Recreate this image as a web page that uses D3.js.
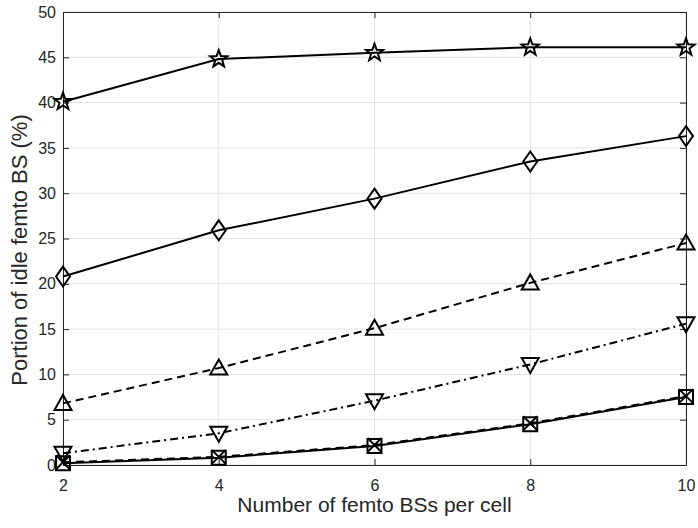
<!DOCTYPE html>
<html>
<head>
<meta charset="utf-8">
<script src="https://cdn.jsdelivr.net/npm/d3@7"></script>
<style>
  body { margin: 0; background: #fff; }
  text { font-family: "Liberation Sans", Arial, sans-serif; fill: #262626; }
</style>
</head>
<body>
<div id="chart-area"></div>
<script>
// femto BS counts
var femtoCounts = [2, 4, 6, 8, 10];
var starVals = [40.1, 44.8, 45.5, 46.1, 46.1];
var diamondVals = [20.8, 25.9, 29.4, 33.5, 36.3];
var triUpVals = [6.8, 10.7, 15.1, 20.1, 24.5];
var triDownVals = [1.3, 3.5, 7.1, 11.1, 15.6];
var squareVals = [0.2, 0.8, 2.1, 4.5, 7.5];
var crossVals = [0.3, 0.9, 2.2, 4.6, 7.6];
var yTicks = [0, 5, 10, 15, 20, 25, 30, 35, 40, 45, 50];

var series = [
  {values: starVals, marker: 'star', dash: null},
  {values: diamondVals, marker: 'diamond', dash: null},
  {values: triUpVals, marker: 'triUp', dash: '8,5'},
  {values: triDownVals, marker: 'triDown', dash: '8,4,2,4'},
  {values: squareVals, marker: 'square', dash: null},
  {values: crossVals, marker: 'cross', dash: '8,5'}
];

var width = 698, height = 528;
var margin = {left: 63, right: 12, top: 12, bottom: 63};

var svg = d3.select("#chart-area").append("svg")
            .attr("width", width)
            .attr("height", height);

const x = d3.scaleLinear().domain([2, 10]).range([margin.left, width - margin.right]);
const y = d3.scaleLinear().domain([0, 50]).range([height - margin.bottom, margin.top]);

// grid
svg.append("g").selectAll("line").data(femtoCounts).enter().append("line")
    .attr("x1", d => x(d)).attr("x2", d => x(d))
    .attr("y1", y(0)).attr("y2", y(50))
    .attr("stroke", "#e3e3e3").attr("stroke-width", 1);
svg.append("g").selectAll("line").data(yTicks).enter().append("line")
    .attr("x1", x(2)).attr("x2", x(10))
    .attr("y1", d => y(d)).attr("y2", d => y(d))
    .attr("stroke", "#e3e3e3").attr("stroke-width", 1);

// axes
svg.append("g").attr("transform", "translate(0," + y(0) + ")")
    .call(d3.axisBottom(x).tickValues(femtoCounts).tickSizeInner(-6).tickSizeOuter(0).tickPadding(15));
svg.append("g").attr("transform", "translate(" + x(2) + ",0)")
    .call(d3.axisLeft(y).tickValues(yTicks).tickSizeInner(-6).tickSizeOuter(0).tickPadding(7));
svg.append("g").attr("transform", "translate(0," + y(50) + ")")
    .call(d3.axisTop(x).tickValues(femtoCounts).tickSizeInner(-6).tickSizeOuter(0).tickFormat(""));
svg.append("g").attr("transform", "translate(" + x(10) + ",0)")
    .call(d3.axisRight(y).tickValues(yTicks).tickSizeInner(-6).tickSizeOuter(0).tickFormat(""));

svg.selectAll(".domain").attr("stroke", "#262626");
svg.selectAll(".tick line").attr("stroke", "#262626");
svg.selectAll(".tick text")
    .style("font-size", "16px")
    .style("fill", "#262626")
    .style("font-family", "Liberation Sans, Arial, sans-serif");

// lines
var line = d3.line().x((d, i) => x(femtoCounts[i])).y(d => y(d));

series.forEach(s => {
  svg.append("path")
      .attr("d", line(s.values))
      .attr("fill", "none")
      .attr("stroke", "#000")
      .attr("stroke-width", 2)
      .attr("stroke-dasharray", s.dash);
});

// markers
function starPath(ro, ri) {
  var pts = [];
  for (var k = 0; k < 10; k++) {
    var r = k % 2 === 0 ? ro : ri;
    var a = -Math.PI / 2 + k * Math.PI / 5;
    pts.push([r * Math.cos(a), r * Math.sin(a)]);
  }
  return "M" + pts.map(p => p[0].toFixed(2) + "," + p[1].toFixed(2)).join("L") + "Z";
}

function markerPath(kind) {
  if (kind === 'star') return starPath(9, 3.7);
  if (kind === 'diamond') return "M0,-10L7,0L0,10L-7,0Z";
  if (kind === 'triUp') return "M0,-8.5L8.5,6.5L-8.5,6.5Z";
  if (kind === 'triDown') return "M0,8.5L8.5,-6.5L-8.5,-6.5Z";
  if (kind === 'square') return "M-7,-7L7,-7L7,7L-7,7Z";
  if (kind === 'cross') return "M-7,-7L7,7M7,-7L-7,7";
  return "";
}

series.forEach(s => {
  svg.append("g").selectAll("path").data(s.values).enter().append("path")
      .attr("transform", (d, i) => "translate(" + x(femtoCounts[i]) + "," + y(d) + ")")
      .attr("d", markerPath(s.marker))
      .attr("fill", "none")
      .attr("stroke", "#000")
      .attr("stroke-width", 2);
});

// axis labels
svg.append("text")
    .attr("x", (x(2) + x(10)) / 2)
    .attr("y", 512)
    .attr("text-anchor", "middle")
    .attr("font-size", 21)
    .text("Number of femto BSs per cell");

svg.append("text")
    .attr("transform", "translate(27,250) rotate(-90)")
    .attr("text-anchor", "middle")
    .attr("font-size", 22)
    .text("Portion of idle femto BS (%)");
</script>
</body>
</html>
